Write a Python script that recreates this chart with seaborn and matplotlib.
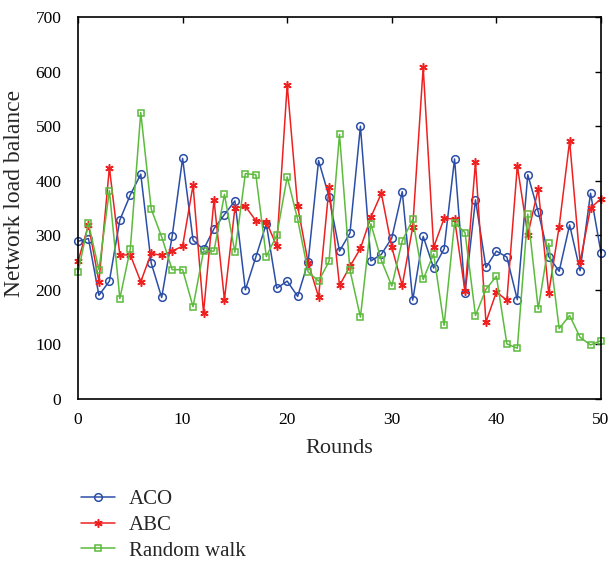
import numpy as np
import pandas as pd
import matplotlib
matplotlib.use("Agg")
import matplotlib.pyplot as plt
import seaborn as sns

rounds = list(range(51))
aco = [289, 294, 190, 216, 328, 374, 412, 249, 186, 298, 441,
       291, 274, 312, 338, 363, 200, 260, 321, 203, 216,
       188, 251, 437, 371, 271, 304, 500, 253, 265, 295,
       380, 181, 298, 240, 275, 440, 194, 365, 241, 271,
       260, 182, 411, 343, 261, 234, 319, 235, 377, 268]
abc = [252, 319, 215, 424, 264, 264, 215, 267, 263, 271, 280,
       392, 158, 365, 182, 350, 353, 327, 325, 280, 576,
       353, 250, 187, 388, 208, 243, 276, 333, 377, 278,
       208, 315, 608, 278, 331, 330, 197, 434, 141, 196,
       181, 427, 301, 385, 194, 316, 473, 251, 350, 367]
rw = [232, 322, 237, 382, 184, 275, 525, 348, 297, 237, 237,
      169, 271, 271, 375, 269, 413, 411, 261, 300, 407,
      329, 233, 216, 252, 485, 236, 150, 321, 254, 207,
      290, 329, 219, 266, 135, 323, 305, 153, 201, 225,
      101, 93, 339, 165, 285, 129, 153, 113, 99, 107]
series_names = ["ACO", "ABC", "Random walk"]

sns.set_style("white")
plt.rcParams['font.family'] = ['Liberation Serif', 'DejaVu Serif']

fig = plt.figure(figsize=(6.11, 5.63), dpi=100)
ax = fig.add_axes([78/611, 1 - 399/563, (601-78)/611, (399-17)/563])

colors = ["#2b4ea6", "#ee2020", "#5cbb3c"]
markers = ["o", (6, 2, 0), "s"]
msizes = [5.5, 6, 4.2]
for vals, name, c, m, ms in zip([aco, abc, rw], series_names, colors, markers, msizes):
    df = pd.DataFrame({"Rounds": rounds, "v": vals})
    filled = name == "ABC"
    sns.lineplot(data=df, x="Rounds", y="v", ax=ax, color=c, lw=1.1,
                 marker=m, markersize=ms,
                 markerfacecolor=(c if filled else "none"),
                 markeredgecolor=c, markeredgewidth=1.1, label=name,
                 clip_on=False)

ax.set_xlim(0, 50)
ax.set_ylim(0, 700)
ax.set_xticks(range(0, 51, 10))
ax.set_yticks(range(0, 701, 100))
ax.tick_params(direction="in", length=4, width=1, top=True, right=True,
               labelsize=12.5, colors="black")
ax.tick_params(axis="x", pad=9)
ax.tick_params(axis="y", pad=12)
for s in ax.spines.values():
    s.set_visible(True)
    s.set_color("black")
    s.set_linewidth(1.2)
ax.set_xlabel("Rounds", fontsize=16, labelpad=8)
ax.set_ylabel("Network load balance", fontsize=17)
ax.yaxis.set_label_coords(-0.101, 0.537)

leg = ax.legend(loc="upper left", bbox_to_anchor=(-0.01, -0.215), frameon=False,
                fontsize=15, handlelength=1.65, handletextpad=0.65,
                labelspacing=0.3, borderaxespad=0)

fig.savefig("out.png", dpi=100)
